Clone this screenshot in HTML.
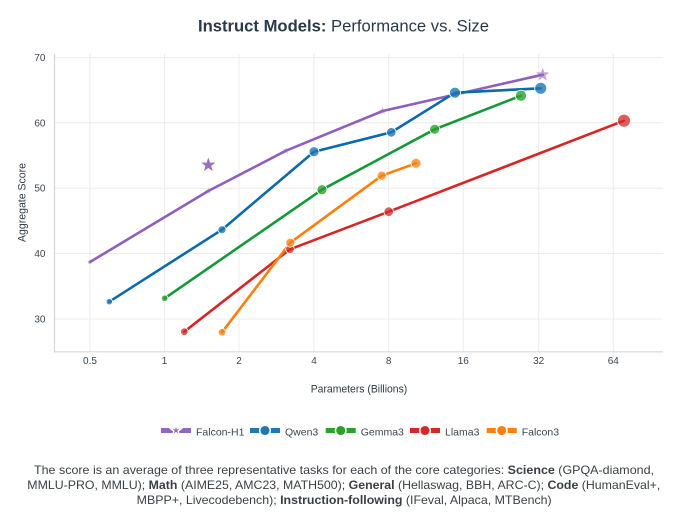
<!DOCTYPE html>
<html><head><meta charset="utf-8">
<style>
html,body{margin:0;padding:0;background:#fff;}
svg{display:block;font-family:"Liberation Sans",Arial,sans-serif;}
</style></head>
<body>
<svg width="688" height="523" viewBox="0 0 688 523" xmlns="http://www.w3.org/2000/svg">
<rect width="688" height="523" fill="#fff"/>
<!-- title -->
<text x="198" y="31.5" font-size="16.3" fill="#2a3a4a" textLength="291" lengthAdjust="spacingAndGlyphs"><tspan font-weight="bold">Instruct Models:</tspan> Performance vs. Size</text>

<!-- grid -->
<g stroke="#ececec" stroke-width="1">
<line x1="90" y1="54" x2="90" y2="352"/>
<line x1="164.5" y1="54" x2="164.5" y2="352"/>
<line x1="239" y1="54" x2="239" y2="352"/>
<line x1="314" y1="54" x2="314" y2="352"/>
<line x1="388.7" y1="54" x2="388.7" y2="352"/>
<line x1="463.3" y1="54" x2="463.3" y2="352"/>
<line x1="538.7" y1="54" x2="538.7" y2="352"/>
<line x1="613.3" y1="54" x2="613.3" y2="352"/>
<line x1="54" y1="57.5" x2="663" y2="57.5"/>
<line x1="54" y1="122.8" x2="663" y2="122.8"/>
<line x1="54" y1="188.2" x2="663" y2="188.2"/>
<line x1="54" y1="253.5" x2="663" y2="253.5"/>
<line x1="54" y1="319" x2="663" y2="319"/>
</g>
<g stroke="#d8d8d8" stroke-width="1.2">
<line x1="54.5" y1="54" x2="54.5" y2="352"/>
<line x1="54" y1="351.8" x2="663" y2="351.8"/>
</g>

<!-- y ticks -->
<g font-size="10" fill="#3c4650" text-anchor="end">
<text x="45.5" y="61">70</text>
<text x="45.5" y="126.3">60</text>
<text x="45.5" y="191.7">50</text>
<text x="45.5" y="257">40</text>
<text x="45.5" y="322.5">30</text>
</g>
<!-- x ticks -->
<g font-size="10" fill="#3c4650" text-anchor="middle">
<text x="90" y="364">0.5</text>
<text x="164.5" y="364">1</text>
<text x="239" y="364">2</text>
<text x="314" y="364">4</text>
<text x="388.7" y="364">8</text>
<text x="463.3" y="364">16</text>
<text x="538.7" y="364">32</text>
<text x="613.3" y="364">64</text>
</g>
<text x="359" y="392.3" font-size="11" fill="#2f3a44" text-anchor="middle" textLength="96.5" lengthAdjust="spacingAndGlyphs">Parameters (Billions)</text>
<text transform="translate(25.5,202.5) rotate(-90)" font-size="11" fill="#2f3a44" text-anchor="middle" textLength="79" lengthAdjust="spacingAndGlyphs">Aggregate Score</text>

<!-- series lines -->
<g fill="none" stroke-width="2.6" stroke-linejoin="round" stroke-linecap="round">
<polyline stroke="#8f5fbb" points="90,262 208.3,191 286,150.7 382.7,111 542.7,74.7"/>
<polyline stroke="#0a6aab" points="109.3,301.7 222,229.7 314,151.7 391.3,132.3 455,92.7 540.7,88.3"/>
<polyline stroke="#13993a" points="164.7,298.3 322,189.7 434.7,129.3 521,95.7"/>
<polyline stroke="#d62728" points="184.3,331.7 290,249.3 388.7,211.7 624,120.7"/>
<polyline stroke="#ff7f0e" points="222,332.3 290.3,242.7 381.7,175.7 416,163.3"/>
</g>

<!-- markers -->
<g stroke="#fff" stroke-width="0.8">
<g fill="#1f77b4" fill-opacity="0.8">
<circle cx="109.3" cy="301.7" r="3.2"/>
<circle cx="222" cy="229.7" r="4"/>
<circle cx="314" cy="151.7" r="5"/>
<circle cx="391.3" cy="132.3" r="4.8"/>
<circle cx="455" cy="92.7" r="5.5"/>
<circle cx="540.7" cy="88.3" r="6"/>
</g>
<g fill="#2ca02c" fill-opacity="0.8">
<circle cx="164.7" cy="298.3" r="3.3"/>
<circle cx="322" cy="189.7" r="5"/>
<circle cx="434.7" cy="129.3" r="5"/>
<circle cx="521" cy="95.7" r="5.6"/>
</g>
<g fill="#d62728" fill-opacity="0.75">
<circle cx="184.3" cy="331.7" r="3.8"/>
<circle cx="290" cy="249.3" r="4.3"/>
<circle cx="388.7" cy="211.7" r="4.8"/>
<circle cx="624" cy="120.7" r="6.5"/>
</g>
<g fill="#ff7f0e" fill-opacity="0.75">
<circle cx="222" cy="332.3" r="3.8"/>
<circle cx="290.3" cy="242.7" r="4.5"/>
<circle cx="381.7" cy="175.7" r="4.6"/>
<circle cx="416" cy="163.3" r="5"/>
</g>
</g>
<!-- Falcon-H1 stars -->
<g fill="#9467bd">
<polygon fill-opacity="0.5" transform="translate(90,262) scale(3)" points="0,-1 0.235,-0.324 0.951,-0.309 0.380,0.124 0.588,0.809 0,0.4 -0.588,0.809 -0.380,0.124 -0.951,-0.309 -0.235,-0.324"/>
<polygon fill-opacity="0.5" transform="translate(208.3,191) scale(3.3)" points="0,-1 0.235,-0.324 0.951,-0.309 0.380,0.124 0.588,0.809 0,0.4 -0.588,0.809 -0.380,0.124 -0.951,-0.309 -0.235,-0.324"/>
<polygon fill-opacity="0.5" transform="translate(286,150.7) scale(3.6)" points="0,-1 0.235,-0.324 0.951,-0.309 0.380,0.124 0.588,0.809 0,0.4 -0.588,0.809 -0.380,0.124 -0.951,-0.309 -0.235,-0.324"/>
<polygon fill-opacity="0.5" transform="translate(382.7,111) scale(4)" points="0,-1 0.235,-0.324 0.951,-0.309 0.380,0.124 0.588,0.809 0,0.4 -0.588,0.809 -0.380,0.124 -0.951,-0.309 -0.235,-0.324"/>
<polygon fill-opacity="0.6" transform="translate(542.7,74.7) scale(7)" points="0,-1 0.235,-0.324 0.951,-0.309 0.380,0.124 0.588,0.809 0,0.4 -0.588,0.809 -0.380,0.124 -0.951,-0.309 -0.235,-0.324"/>
<polygon fill-opacity="0.95" transform="translate(208.3,165) scale(7.5)" points="0,-1 0.235,-0.324 0.951,-0.309 0.380,0.124 0.588,0.809 0,0.4 -0.588,0.809 -0.380,0.124 -0.951,-0.309 -0.235,-0.324"/>
</g>

<!-- legend -->
<g stroke-width="5">
<line x1="161" y1="430.5" x2="191" y2="430.5" stroke="#9467bd"/>
<line x1="250" y1="430.5" x2="280" y2="430.5" stroke="#1f77b4"/>
<line x1="325.7" y1="430.5" x2="355.7" y2="430.5" stroke="#2ca02c"/>
<line x1="410" y1="430.5" x2="440" y2="430.5" stroke="#d62728"/>
<line x1="486.7" y1="430.5" x2="516.7" y2="430.5" stroke="#ff7f0e"/>
</g>
<g stroke="#fff" stroke-width="1.5">
<polygon fill="#9467bd" transform="translate(176,430.5) scale(5.5)" stroke-width="0.25" points="0,-1 0.235,-0.324 0.951,-0.309 0.380,0.124 0.588,0.809 0,0.4 -0.588,0.809 -0.380,0.124 -0.951,-0.309 -0.235,-0.324"/>
<circle cx="265" cy="430.5" r="5.3" fill="#1f77b4"/>
<circle cx="340.7" cy="430.5" r="5.3" fill="#2ca02c"/>
<circle cx="425" cy="430.5" r="5.3" fill="#d62728"/>
<circle cx="501.7" cy="430.5" r="5.3" fill="#ff7f0e"/>
</g>
<g font-size="10.5" fill="#3c4650">
<text x="196" y="435.5">Falcon-H1</text>
<text x="285" y="435.5">Qwen3</text>
<text x="360.7" y="435.5">Gemma3</text>
<text x="445" y="435.5">Llama3</text>
<text x="521.7" y="435.5">Falcon3</text>
</g>

<!-- footer -->
<g font-size="11.8" fill="#3a3f45">
<text x="34" y="474" textLength="620" lengthAdjust="spacingAndGlyphs">The score is an average of three representative tasks for each of the core categories: <tspan font-weight="bold">Science</tspan> (GPQA-diamond,</text>
<text x="27.3" y="489" textLength="633" lengthAdjust="spacingAndGlyphs">MMLU-PRO, MMLU); <tspan font-weight="bold">Math</tspan> (AIME25, AMC23, MATH500); <tspan font-weight="bold">General</tspan> (Hellaswag, BBH, ARC-C); <tspan font-weight="bold">Code</tspan> (HumanEval+,</text>
<text x="136.7" y="504" textLength="415" lengthAdjust="spacingAndGlyphs">MBPP+, Livecodebench); <tspan font-weight="bold">Instruction-following</tspan> (IFeval, Alpaca, MTBench)</text>
</g>
</svg>
</body></html>
